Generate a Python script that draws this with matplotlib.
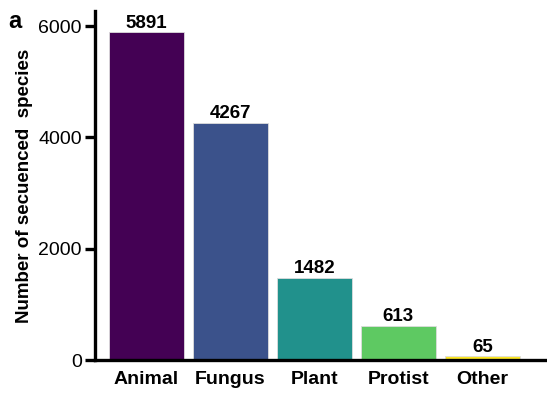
import matplotlib
matplotlib.use("Agg")
import matplotlib.pyplot as plt

categories = ["Animal", "Fungus", "Plant", "Protist", "Other"]
species_counts = [5891, 4267, 1482, 613, 65]
bar_colors = ["#440154", "#3b528b", "#21918c", "#5ec962", "#fde725"]
y_ticks = [0, 2000, 4000, 6000]

plt.rcParams["font.family"] = ["Liberation Sans", "DejaVu Sans"]

fig = plt.figure(figsize=(5.47, 3.96), dpi=100)
ax = fig.add_axes([0.1737, 0.0909, 0.8263, 0.881])

x = list(range(len(categories)))
bars = ax.bar(x, species_counts, width=0.9, color=bar_colors,
              edgecolor="#dddddd", linewidth=0.6)

for xi, val in zip(x, species_counts):
    ax.text(xi, val + 10, str(val), ha="center", va="bottom",
            fontsize=13.5, fontweight="bold")

ax.set_xlim(-0.613, 4.77)
ax.set_ylim(0, 6270)
ax.set_yticks(y_ticks)
ax.set_yticklabels([str(t) for t in y_ticks], fontsize=14)
ax.set_xticks(x)
ax.set_xticklabels(categories, fontsize=14, fontweight="bold")

ax.spines["top"].set_visible(False)
ax.spines["right"].set_visible(False)
ax.spines["left"].set_linewidth(2.4)
ax.spines["bottom"].set_linewidth(2.4)
ax.tick_params(axis="y", length=7, width=2.4, pad=2.5)
ax.tick_params(axis="x", length=0, pad=8)

ax.set_ylabel("Number of secuenced  species", fontsize=13.5,
              fontweight="bold", labelpad=4)

fig.text(0.015, 0.975, "a", fontsize=17, fontweight="bold", va="top")

fig.savefig("out.png", dpi=100)
